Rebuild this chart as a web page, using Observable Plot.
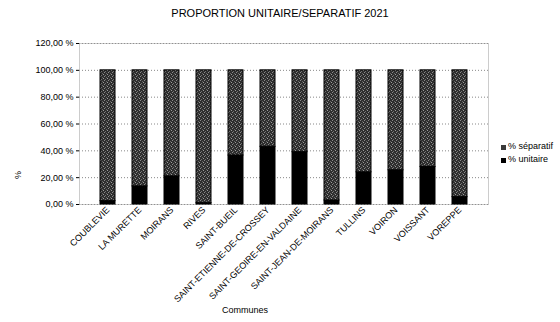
<!DOCTYPE html>
<html><head><meta charset="utf-8">
<script src="https://cdn.jsdelivr.net/npm/d3@7"></script>
<script src="https://cdn.jsdelivr.net/npm/@observablehq/plot@0.6"></script>
<style>
body{margin:0;background:#fff;font-family:"Liberation Sans",Arial,sans-serif;}
#wrap{position:relative;width:560px;height:322px;}
.t{position:absolute;white-space:nowrap;color:#000;}
</style></head><body>
<div id="wrap"></div>
<script>
const communes = ["COUBLEVIE","LA MURETTE","MOIRANS","RIVES","SAINT-BUEIL","SAINT-ETIENNE-DE-CROSSEY","SAINT-GEOIRE-EN-VALDAINE","SAINT-JEAN-DE-MOIRANS","TULLINS","VOIRON","VOISSANT","VOREPPE"];
const unitaire = [2.5, 13.5, 21, 1, 36.5, 43, 39, 3, 24, 25.5, 28, 5.5];
const separatif = [97.5, 86.5, 79, 99, 63.5, 57, 61, 97, 76, 74.5, 72, 94.5];
const yTicks = [0, 20, 40, 60, 80, 100, 120];
const series = ["% unitaire", "% séparatif"];

const rows = [];
communes.forEach((c, i) => {
  rows.push({commune: c, serie: series[0], v: unitaire[i]});
  rows.push({commune: c, serie: series[1], v: separatif[i]});
});
const fmt = d => d.toFixed(2).replace(".", ",") + " %";

const chart = Plot.plot({
  width: 560, height: 322,
  marginLeft: 79, marginRight: 72, marginTop: 43, marginBottom: 118,
  style: {fontFamily: '"Liberation Sans", Arial, sans-serif', fontSize: "9px", background: "#fff"},
  x: {domain: communes, padding: 0.53, label: null},
  y: {domain: [0, 120], ticks: yTicks, label: null, tickFormat: fmt},
  marks: [
    Plot.gridY(yTicks, {stroke: "#888", strokeOpacity: 1, strokeDasharray: "1,2"}),
    Plot.frame({stroke: "#999", strokeDasharray: "1,1"}),
    Plot.barY(rows, Plot.stackY({x: "commune", y: "v", order: series,
      fill: d => d.serie === series[0] ? "#000" : "url(#stip)", stroke: "#000", strokeWidth: 1})),
    Plot.axisY({ticks: yTicks, tickFormat: fmt, tickSize: 3, tickPadding: 3, label: null}),
    Plot.axisX({tickRotate: -45, tickSize: 0, tickPadding: 4, label: null, fontSize: 9})
  ]
});
const ns = "http://www.w3.org/2000/svg";
const defs = document.createElementNS(ns, "defs");
defs.innerHTML = '<pattern id="stip" width="4" height="4" patternUnits="userSpaceOnUse">' +
  '<rect width="4" height="4" fill="#2e2e2e"/>' +
  '<rect x="0" y="0" width="1" height="1" fill="#8a8a8a"/>' +
  '<rect x="2" y="1" width="1" height="1" fill="#666"/>' +
  '<rect x="3" y="2" width="1" height="1" fill="#9a9a9a"/>' +
  '<rect x="1" y="3" width="1" height="1" fill="#707070"/></pattern>';
chart.insertBefore(defs, chart.firstChild);
const wrap = document.getElementById("wrap");
wrap.appendChild(chart);

function addText(txt, x, y, size, extra) {
  const d = document.createElement("div");
  d.className = "t"; d.textContent = txt;
  d.style.left = x + "px"; d.style.top = y + "px"; d.style.fontSize = size + "px";
  if (extra) Object.assign(d.style, extra);
  wrap.appendChild(d);
}
addText("PROPORTION UNITAIRE/SEPARATIF 2021", 280, 7, 11, {transform: "translateX(-50%)"});
addText("Communes", 245, 305, 9, {transform: "translateX(-50%)"});
addText("%", 14, 170, 9, {transform: "rotate(-90deg)"});
// legend
const leg = [["% séparatif", "#3a3a3a"], ["% unitaire", "#000"]];
leg.forEach(([name, col], i) => {
  const sw = document.createElement("div");
  sw.style.position = "absolute"; sw.style.left = "501px"; sw.style.top = (145 + i * 13) + "px";
  sw.style.width = "5px"; sw.style.height = "5px";
  sw.style.background = col;
  wrap.appendChild(sw);
  addText(name, 508, 141 + i * 13, 9);
});
</script>
</body></html>
